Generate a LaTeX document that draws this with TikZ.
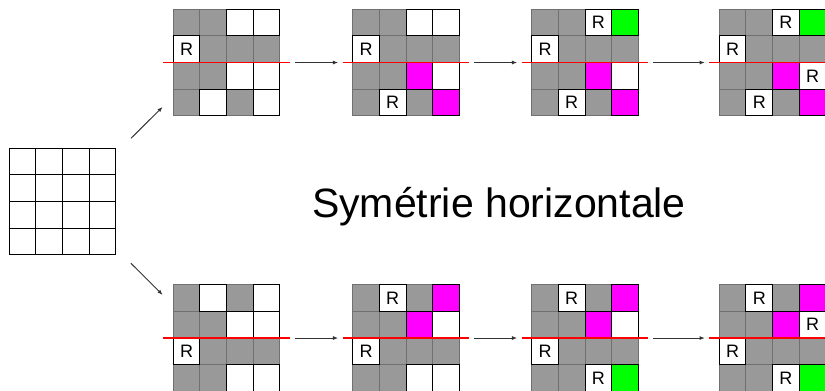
\documentclass[tikz,border=0pt]{standalone}
\usepackage{fontspec}
\setmainfont{Liberation Sans}
\usetikzlibrary{arrows.meta}

% cell colours, one per cell type letter
\definecolor{cellgray}{RGB}{153,153,153}
\definecolor{cellrule}{RGB}{112,112,112}
\definecolor{pureM}{RGB}{255,0,255}
\definecolor{pureN}{RGB}{0,255,0}
\definecolor{axisred}{RGB}{255,0,0}
\colorlet{fillG}{cellgray}
\colorlet{fillW}{white}
\colorlet{fillR}{white}
\colorlet{fillM}{pureM}
\colorlet{fillN}{pureN}
% cell labels, one per cell type letter
\def\labG{}\def\labW{}\def\labR{R}\def\labM{}\def\labN{}

\def\cellsz{26.667}

\tikzset{
  cell/.style={rectangle, minimum size=20pt, inner sep=0pt, outer sep=0pt,
    line width=0.75pt, draw=black, font=\fontsize{13.5}{14}\selectfont},
  gridbox/.style={rectangle, minimum size=80pt, inner sep=0pt, outer sep=0pt},
  axis/.style={draw=axisred, line width=1pt},
  flow/.style={line width=0.75pt, draw=black!80, -{Latex[length=4pt,width=3pt]}},
}

% \cellgrid{name}{left x}{top y}{rows}: gray cells first, the rest on top
\newcommand\cellgrid[4]{%
  \foreach \rw [count=\r] in {#4}{%
    \foreach \t [count=\k] in \rw {%
      \if G\t
        \node[cell, fill=fillG, draw=cellrule] at ({#2+(\k-0.5)*\cellsz},{#3+(\r-0.5)*\cellsz}) {};
      \fi}}%
  \foreach \rw [count=\r] in {#4}{%
    \foreach \t [count=\k] in \rw {%
      \if G\t\else
        \node[cell, fill=fill\t] at ({#2+(\k-0.5)*\cellsz},{#3+(\r-0.5)*\cellsz}) {\csname lab\t\endcsname};
      \fi}}%
  \node[gridbox] (#1) at ({#2+2*\cellsz},{#3+2*\cellsz}) {};
}

\begin{document}
\begin{tikzpicture}[x=0.75pt, y=-0.75pt]
  \clip (0,0) rectangle (825,390);
  \fill[white] (0,0) rectangle (825,390);

  % empty starting grid
  \cellgrid{start}{9.3}{148.3}{{W,W,W,W},{W,W,W,W},{W,W,W,W},{W,W,W,W}}

  % upper sequence
  \cellgrid{t1}{173.3}{9.2}{{G,G,W,W},{R,G,G,G},{G,G,W,W},{G,W,G,W}}
  \cellgrid{t2}{352.7}{9.2}{{G,G,W,W},{R,G,G,G},{G,G,M,W},{G,R,G,M}}
  \cellgrid{t3}{531.7}{9.2}{{G,G,R,N},{R,G,G,G},{G,G,M,W},{G,R,G,M}}
  \cellgrid{t4}{719.3}{9.2}{{G,G,R,N},{R,G,G,G},{G,G,M,R},{G,R,G,M}}

  % lower sequence
  \cellgrid{b1}{173.3}{284.7}{{G,W,G,W},{G,G,W,W},{R,G,G,G},{G,G,W,W}}
  \cellgrid{b2}{352.7}{284.7}{{G,R,G,M},{G,G,M,W},{R,G,G,G},{G,G,W,W}}
  \cellgrid{b3}{531.7}{284.7}{{G,R,G,M},{G,G,M,W},{R,G,G,G},{G,G,R,N}}
  \cellgrid{b4}{719.3}{284.7}{{G,R,G,M},{G,G,M,R},{R,G,G,G},{G,G,R,N}}

  % horizontal symmetry axes
  \foreach \g in {t1,t2,t3,t4,b1,b2,b3,b4}
    \draw[axis] ([xshift=-7.5pt]\g.west) -- ([xshift=7.5pt]\g.east);

  % steps
  \foreach \a/\b in {t1/t2, t2/t3, t3/t4, b1/b2, b2/b3, b3/b4}
    \draw[flow, shorten <=11.25pt, shorten >=10.8pt] (\a) -- (\b);

  % branches out of the empty grid
  \draw[flow] ([shift={(15,-10)}]start.north east) -- ([shift={(-10.6,-9)}]t1.south west);
  \draw[flow] ([shift={(15,8.3)}]start.south east) -- ([shift={(-10.6,10.2)}]b1.north west);

  \node[font=\fontsize{30.75}{36}\selectfont, anchor=base] (title) at (499,217) {Symétrie horizontale};
\end{tikzpicture}
\end{document}
